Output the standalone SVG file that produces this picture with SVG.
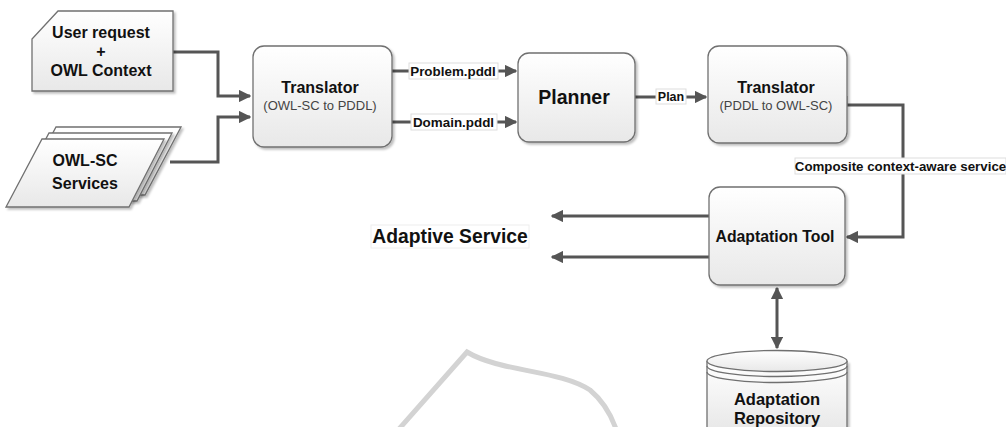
<svg xmlns="http://www.w3.org/2000/svg" width="1006" height="427" viewBox="0 0 1006 427">
<defs>
<linearGradient id="g" x1="0" y1="0" x2="0" y2="1">
<stop offset="0" stop-color="#ffffff"/>
<stop offset="1" stop-color="#e8e8e8"/>
</linearGradient>
<filter id="sh" x="-10%" y="-10%" width="130%" height="130%">
<feDropShadow dx="2" dy="2" stdDeviation="1.2" flood-color="#000" flood-opacity="0.25"/>
</filter>
<marker id="ah" viewBox="0 0 10 10" refX="9" refY="5" markerWidth="4.2" markerHeight="4.2" orient="auto-start-reverse" markerUnits="strokeWidth">
<path d="M0,0 L10,5 L0,10 Z" fill="#555"/>
</marker>
<style>
.box{fill:url(#g);stroke:#707070;stroke-width:1.3;filter:url(#sh)}
.t{font-family:"Liberation Sans",Arial,sans-serif;font-weight:bold;fill:#111;text-anchor:middle}
.s{font-family:"Liberation Sans",Arial,sans-serif;fill:#444;text-anchor:middle;font-size:13px}
.c{fill:none;stroke:#555;stroke-width:3}
.lb{fill:#fff;stroke:#ddd;stroke-width:1}
.wm{fill:none;stroke:#d3d3d3;stroke-width:5}
</style>
</defs>
<rect width="1006" height="427" fill="#fff"/>
<path class="wm" d="M399,429 L467,352 C500,372 560,370 590,390 C602,400 610,412 616,429"/>

<g id="connectors">
<path class="c" d="M173,52 H218 V96 H250" marker-end="url(#ah)"/>
<path class="c" d="M170,162 H218 V117 H250" marker-end="url(#ah)"/>
<path class="c" d="M392,71 H516" marker-end="url(#ah)"/>
<path class="c" d="M392,122 H516" marker-end="url(#ah)"/>
<path class="c" d="M635,97 H706" marker-end="url(#ah)"/>
<path class="c" d="M846,96 V105 H903 V237 H847" marker-end="url(#ah)"/>
<path class="c" d="M709,216 H552" marker-end="url(#ah)"/>
<path class="c" d="M709,257 H552" marker-end="url(#ah)"/>
<path class="c" d="M777,288 V348" marker-start="url(#ah)" marker-end="url(#ah)"/>
<rect class="lb" x="409" y="63" width="89" height="16"/>
<text class="t" x="453" y="75.5" font-size="13.4">Problem.pddl</text>
<rect class="lb" x="411" y="114" width="86" height="16"/>
<text class="t" x="453.5" y="126.5" font-size="13.4">Domain.pddl</text>
<rect class="lb" x="656" y="89" width="30" height="15"/>
<text class="t" x="671" y="101" font-size="12.5">Plan</text>
<rect class="lb" x="795" y="158" width="211" height="16"/>
<text class="t" x="900.5" y="170.5" font-size="13.3">Composite context-aware service</text>
</g>

<g id="user-request">
<path class="box" d="M58,11 H173 V91 H32 V39 Z"/>
<text class="t" x="101" y="38" font-size="16">User request</text>
<text class="t" x="101" y="57" font-size="16">+</text>
<text class="t" x="101" y="76" font-size="16">OWL Context</text>
</g>

<g id="owl-sc-services">
<path class="box" d="M56,127 H181 L145,195 H20 Z"/>
<path class="box" d="M49,133 H172 L137,201 H13 Z"/>
<path class="box" d="M42,139 H164 L129,207 H6 Z"/>
<text class="t" x="85" y="166" font-size="16">OWL-SC</text>
<text class="t" x="85" y="189" font-size="16">Services</text>
</g>

<g id="translator1">
<rect class="box" x="253" y="46" width="139" height="101" rx="11"/>
<text class="t" x="320" y="93" font-size="16">Translator</text>
<text class="s" x="320" y="110">(OWL-SC to PDDL)</text>
</g>

<g id="planner">
<rect class="box" x="518" y="53" width="117" height="89" rx="11"/>
<text class="t" x="574" y="104" font-size="19.5">Planner</text>
</g>

<g id="translator2">
<rect class="box" x="708" y="46" width="139" height="97" rx="11"/>
<text class="t" x="776" y="93" font-size="16">Translator</text>
<text class="s" x="776" y="110">(PDDL to OWL-SC)</text>
</g>

<g id="adaptation-tool">
<rect class="box" x="709" y="187" width="136" height="98" rx="11"/>
<text class="t" x="775" y="242" font-size="15.8">Adaptation Tool</text>
</g>

<g id="adaptive-service">
<rect x="371" y="225" width="158" height="23" fill="#fff" stroke="#eee" stroke-width="1"/>
<text class="t" x="450" y="243" font-size="19.3">Adaptive Service</text>
</g>

<g id="adaptation-repository">
<path class="box" d="M707,361 V430 H847 V361"/>
<ellipse cx="777" cy="361" rx="70" ry="10.5" fill="url(#g)" stroke="#707070" stroke-width="1.3"/>
<path d="M707,366 A70,10.5 0 0 0 847,366" fill="none" stroke="#707070" stroke-width="1.3"/>
<path d="M707,372 A70,10.5 0 0 0 847,372" fill="none" stroke="#707070" stroke-width="1.3"/>
<text class="t" x="777" y="405" font-size="16.5">Adaptation</text>
<text class="t" x="777" y="424" font-size="16.5">Repository</text>
</g>
</svg>
